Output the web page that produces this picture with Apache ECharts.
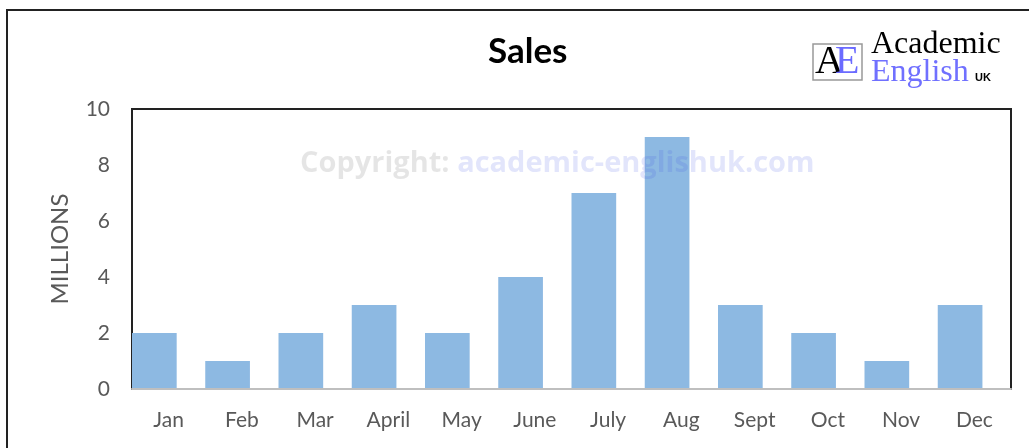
<!DOCTYPE html>
<html>
<head>
<meta charset="utf-8">
<script src="https://cdn.jsdelivr.net/npm/echarts@6/dist/echarts.min.js"></script>
<style>
  html, body { margin: 0; padding: 0; background: #fff; }
  #chart { width: 1029px; height: 448px; }
</style>
</head>
<body>
<div id="chart"></div>
<script>
let months = ['Jan', 'Feb', 'Mar', 'April', 'May', 'June', 'July', 'Aug', 'Sept', 'Oct', 'Nov', 'Dec'];
let sales = [2, 1, 2, 3, 2, 4, 7, 9, 3, 2, 1, 3];
let spacer = months.map(() => '-'); // empty slot so bars sit at the left of each category
let yTicks = { min: 0, max: 10, interval: 2 };

let myChart = echarts.init(document.getElementById('chart'));
let option = {
    backgroundColor: '#fff',
    animation: false,
    title: {
        text: 'Sales',
        left: 483,
        top: 29,
        textStyle: { fontFamily: 'Lato', fontWeight: 'bold', fontSize: 35, color: '#000' }
    },
    grid: {
        left: 132, right: 18, top: 109, bottom: 59,
        show: true, borderColor: '#222', borderWidth: 2, backgroundColor: 'transparent', z: 1
    },
    xAxis: {
        type: 'category',
        data: months,
        axisLine: { lineStyle: { color: '#bfbfbf', width: 2 } },
        axisTick: { show: false },
        axisLabel: { color: '#595959', fontFamily: 'Lato', fontSize: 21, margin: 21 },
        z: 3
    },
    yAxis: {
        type: 'value',
        min: yTicks.min, max: yTicks.max, interval: yTicks.interval,
        name: 'MILLIONS',
        nameLocation: 'middle',
        nameGap: 60,
        nameTextStyle: { color: '#595959', fontFamily: 'Lato', fontSize: 24 },
        splitLine: { show: false },
        axisLine: { show: false },
        axisTick: { show: false },
        axisLabel: { color: '#595959', fontFamily: 'Lato', fontSize: 21, margin: 22 }
    },
    graphic: [
        {   // outer frame
            type: 'rect', z: 0,
            shape: { x: 7, y: 10, width: 1040, height: 460 },
            style: { fill: 'transparent', stroke: '#222', lineWidth: 2 }
        },
        {   // watermark, see-through, over the bars
            type: 'text', z: 10, left: 300, top: 149,
            style: {
                text: '{g|Copyright: }{b|academic-englishuk.com}',
                rich: {
                    g: { fill: 'rgba(0,0,0,0.1)', fontFamily: 'Open Sans', fontWeight: 'bold', fontSize: 29 },
                    b: { fill: 'rgba(60,80,225,0.15)', fontFamily: 'Open Sans', fontWeight: 'bold', fontSize: 29 }
                }
            }
        },
        {   // logo box
            type: 'rect', z: 5,
            shape: { x: 813, y: 44, width: 49, height: 36 },
            style: { fill: '#fff', stroke: '#999', lineWidth: 1.5 }
        },
        {
            type: 'text', z: 6, left: 815, top: 42,
            style: { text: 'A', fill: '#000', fontFamily: 'Liberation Serif', fontSize: 40 }
        },
        {
            type: 'text', z: 6, left: 835, top: 42,
            style: { text: 'E', fill: '#6b6bff', fontFamily: 'Liberation Serif', fontSize: 40 }
        },
        {
            type: 'text', z: 6, left: 871, top: 29,
            style: { text: 'Academic', fill: '#000', fontFamily: 'Liberation Serif', fontSize: 32 }
        },
        {
            type: 'text', z: 6, left: 871, top: 57,
            style: { text: 'English', fill: '#7070ff', fontFamily: 'Liberation Serif', fontSize: 32 }
        },
        {
            type: 'text', z: 6, left: 975, top: 72,
            style: { text: 'UK', fill: '#000', fontFamily: 'Liberation Sans', fontWeight: 'bold', fontSize: 11 }
        }
    ],
    series: [
        {
            name: 'Sales',
            type: 'bar',
            data: sales,
            barWidth: '61%',
            barGap: '0%',
            itemStyle: { color: '#8db9e2' },
            z: 2
        },
        {
            name: 'spacer',
            type: 'bar',
            data: spacer,
            barWidth: '39%',
            barGap: '0%',
            barCategoryGap: '0%',
            silent: true
        }
    ]
};
myChart.setOption(option);
</script>
</body>
</html>
